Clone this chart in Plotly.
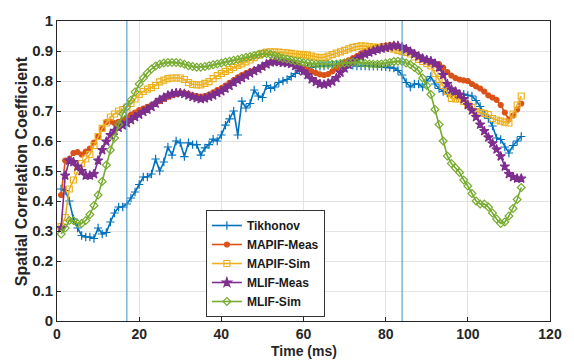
import plotly.graph_objects as go

time_ms = list(range(1, 114))

tikhonov = [0.44, 0.435, 0.40, 0.34, 0.31, 0.285, 0.28, 0.28, 0.275, 0.31,
            0.29, 0.295, 0.33, 0.36, 0.38, 0.38, 0.39, 0.41, 0.43, 0.455,
            0.48, 0.48, 0.49, 0.54, 0.50, 0.53, 0.58, 0.553, 0.60, 0.594,
            0.548, 0.594, 0.588, 0.588, 0.553, 0.577, 0.588, 0.606, 0.60, 0.62,
            0.653, 0.674, 0.70, 0.62, 0.733, 0.71, 0.725, 0.77, 0.75, 0.745,
            0.785, 0.775, 0.78, 0.795, 0.80, 0.805, 0.815, 0.825, 0.835, 0.84,
            0.845, 0.845, 0.848, 0.849, 0.85, 0.852, 0.855, 0.855, 0.855, 0.855,
            0.855, 0.852, 0.85, 0.85, 0.85, 0.849, 0.849, 0.849, 0.848, 0.847,
            0.846, 0.843, 0.835, 0.82, 0.795, 0.78, 0.79, 0.79, 0.78, 0.80,
            0.815, 0.79, 0.775, 0.765, 0.76, 0.758, 0.756, 0.756, 0.756, 0.752,
            0.75, 0.735, 0.715, 0.69, 0.675, 0.65, 0.61, 0.605, 0.58, 0.56,
            0.585, 0.60, 0.615]

mapif_meas = [0.42, 0.535, 0.54, 0.56, 0.563, 0.555, 0.565, 0.575, 0.595, 0.615,
              0.64, 0.663, 0.665, 0.66, 0.664, 0.67, 0.678, 0.688, 0.695, 0.703,
              0.708, 0.714, 0.72, 0.727, 0.733, 0.74, 0.747, 0.752, 0.757, 0.76,
              0.76, 0.757, 0.752, 0.75, 0.748, 0.75, 0.755, 0.762, 0.77, 0.776,
              0.785, 0.794, 0.803, 0.812, 0.82, 0.826, 0.832, 0.836, 0.84, 0.847,
              0.855, 0.862, 0.865, 0.865, 0.864, 0.863, 0.86, 0.856, 0.851, 0.845,
              0.838, 0.832, 0.827, 0.822, 0.82, 0.823, 0.832, 0.842, 0.855, 0.864,
              0.869, 0.876, 0.883, 0.892, 0.899, 0.904, 0.909, 0.913, 0.916, 0.918,
              0.92, 0.92, 0.916, 0.912, 0.905, 0.898, 0.89, 0.88, 0.872, 0.866,
              0.862, 0.858, 0.856, 0.845, 0.83, 0.818, 0.81, 0.805, 0.802, 0.80,
              0.79, 0.782, 0.775, 0.765, 0.752, 0.745, 0.737, 0.72, 0.695, 0.672,
              0.685, 0.705, 0.725]

mapif_sim = [0.315, 0.345, 0.44, 0.47, 0.50, 0.525, 0.54, 0.555, 0.585, 0.615,
             0.642, 0.66, 0.68, 0.69, 0.70, 0.705, 0.713, 0.725, 0.74, 0.755,
             0.765, 0.773, 0.778, 0.785, 0.797, 0.803, 0.808, 0.81, 0.81, 0.81,
             0.805, 0.795, 0.789, 0.787, 0.787, 0.792, 0.798, 0.808, 0.818, 0.825,
             0.832, 0.838, 0.845, 0.852, 0.857, 0.864, 0.87, 0.878, 0.886, 0.892,
             0.896, 0.897, 0.897, 0.896, 0.895, 0.894, 0.892, 0.89, 0.889, 0.888,
             0.886, 0.883, 0.88, 0.878, 0.879, 0.883, 0.888, 0.893, 0.897, 0.902,
             0.907, 0.912, 0.915, 0.917, 0.916, 0.915, 0.913, 0.912, 0.911, 0.91,
             0.91, 0.906, 0.902, 0.898, 0.895, 0.89, 0.88, 0.872, 0.865, 0.858,
             0.85, 0.825, 0.805, 0.785, 0.765, 0.742, 0.74, 0.74, 0.732, 0.72,
             0.712, 0.698, 0.695, 0.692, 0.688, 0.675, 0.67, 0.666, 0.663, 0.66,
             0.69, 0.72, 0.75]

mlif_meas = [0.31, 0.485, 0.535, 0.53, 0.515, 0.50, 0.485, 0.485, 0.49, 0.535,
             0.57, 0.598, 0.62, 0.634, 0.644, 0.652, 0.66, 0.67, 0.68, 0.688,
             0.697, 0.705, 0.714, 0.725, 0.737, 0.745, 0.752, 0.757, 0.76, 0.76,
             0.757, 0.752, 0.747, 0.743, 0.74, 0.742, 0.747, 0.752, 0.76, 0.766,
             0.775, 0.784, 0.795, 0.803, 0.81, 0.818, 0.826, 0.833, 0.84, 0.848,
             0.856, 0.862, 0.864, 0.863, 0.861, 0.86, 0.857, 0.85, 0.842, 0.832,
             0.82, 0.806, 0.797, 0.79, 0.788, 0.792, 0.798, 0.81, 0.828, 0.842,
             0.854, 0.865, 0.873, 0.881, 0.889, 0.895, 0.90, 0.905, 0.908, 0.911,
             0.914, 0.917, 0.917, 0.913, 0.906, 0.898, 0.89, 0.882, 0.875, 0.87,
             0.866, 0.858, 0.845, 0.82, 0.79, 0.772, 0.765, 0.755, 0.74, 0.72,
             0.702, 0.68, 0.655, 0.633, 0.612, 0.592, 0.572, 0.549, 0.515, 0.49,
             0.48, 0.475, 0.475]

mlif_sim = [0.29, 0.31, 0.335, 0.335, 0.325, 0.325, 0.335, 0.355, 0.385, 0.42,
            0.465, 0.52, 0.57, 0.61, 0.655, 0.69, 0.714, 0.736, 0.763, 0.79,
            0.81, 0.827, 0.84, 0.85, 0.856, 0.86, 0.862, 0.862, 0.862, 0.86,
            0.856, 0.851, 0.848, 0.846, 0.846, 0.848, 0.851, 0.854, 0.857, 0.86,
            0.863, 0.866, 0.869, 0.872, 0.876, 0.879, 0.882, 0.885, 0.888, 0.89,
            0.891, 0.888, 0.884, 0.88, 0.876, 0.873, 0.87, 0.867, 0.865, 0.862,
            0.86, 0.858, 0.857, 0.856, 0.856, 0.856, 0.856, 0.857, 0.858, 0.86,
            0.862, 0.863, 0.862, 0.86, 0.858, 0.857, 0.856, 0.856, 0.857, 0.859,
            0.862, 0.865, 0.866, 0.865, 0.86, 0.855, 0.845, 0.835, 0.81, 0.785,
            0.755, 0.705, 0.655, 0.60, 0.55, 0.525, 0.51, 0.495, 0.47, 0.45,
            0.425, 0.40, 0.39, 0.39, 0.38, 0.36, 0.34, 0.325, 0.33, 0.35,
            0.375, 0.405, 0.445]

series_names = ["Tikhonov", "MAPIF-Meas", "MAPIF-Sim", "MLIF-Meas", "MLIF-Sim"]
series_values = [tikhonov, mapif_meas, mapif_sim, mlif_meas, mlif_sim]
series_colors = ["#0072BD", "#D95319", "#EDB120", "#7E2F8E", "#77AC30"]
series_symbols = ["cross-thin", "circle", "square-open", "star", "diamond-open"]
series_msizes = [6, 5, 6, 7, 6]

vline_times = [17, 84]

x_ticks = [0, 20, 40, 60, 80, 100, 120]
y_ticks = [0, 0.1, 0.2, 0.3, 0.4, 0.5, 0.6, 0.7, 0.8, 0.9, 1]
y_ticklabels = ["0", "0.1", "0.2", "0.3", "0.4", "0.5", "0.6", "0.7", "0.8", "0.9", "1"]

x_title = "Time (ms)"
y_title = "Spatial Correlation Coefficient"

fig = go.Figure()

for name, vals, col, sym, ms in zip(series_names, series_values, series_colors,
                                    series_symbols, series_msizes):
    fig.add_trace(go.Scatter(
        x=time_ms, y=vals, name=name, mode="lines+markers",
        line=dict(color=col, width=1.6),
        marker=dict(symbol=sym, size=ms, color=col,
                    line=dict(color=col, width=1.2)),
    ))

for vt in vline_times:
    fig.add_vline(x=vt, line=dict(color="#5aa2cf", width=1.2), layer="above")

font_family = "Liberation Sans, Arial, sans-serif"
L, R, T, B = 57, 21, 15, 41
W, H = 574, 362
plot_w = W - L - R
plot_h = H - T - B

fig.update_layout(
    width=W, height=H,
    margin=dict(l=L, r=R, t=T, b=B),
    paper_bgcolor="white", plot_bgcolor="white",
    font=dict(family=font_family, color="#262626"),
    legend=dict(
        x=0.302, y=0.37, xanchor="left", yanchor="top",
        bgcolor="white", bordercolor="#333333", borderwidth=1,
        font=dict(family=font_family, size=12, color="#1a1a1a", weight="bold"),
        itemwidth=30, tracegroupgap=0,
    ),
    showlegend=True,
)

fig.add_annotation(
    text=x_title, xref="paper", yref="paper",
    x=0.5, y=-(352 - (T + plot_h)) / plot_h,
    xanchor="center", yanchor="middle", showarrow=False,
    font=dict(size=14, weight="bold", color="#262626"),
)
fig.add_annotation(
    text=y_title, xref="paper", yref="paper",
    x=-(L - 21) / plot_w, y=0.5, textangle=-90,
    xanchor="center", yanchor="middle", showarrow=False,
    font=dict(size=16, weight="bold", color="#262626"),
)

fig.update_xaxes(
    range=[0, 120], tickvals=x_ticks,
    showgrid=True, gridcolor="#e3e3e3", gridwidth=1,
    zeroline=False, showline=True, linecolor="#262626", linewidth=1, mirror=True,
    ticks="inside", ticklen=4, tickcolor="#262626",
    tickfont=dict(size=14, weight="bold", color="#262626"),
)
fig.update_yaxes(
    range=[0, 1], tickvals=y_ticks, ticktext=y_ticklabels,
    showgrid=True, gridcolor="#e3e3e3", gridwidth=1,
    zeroline=False, showline=True, linecolor="#262626", linewidth=1, mirror=True,
    ticks="inside", ticklen=4, tickcolor="#262626",
    tickfont=dict(size=15, weight="bold", color="#262626"),
)

fig.write_html("out.html", config={"displayModeBar": False},
               post_script="document.body.style.margin='0';")
